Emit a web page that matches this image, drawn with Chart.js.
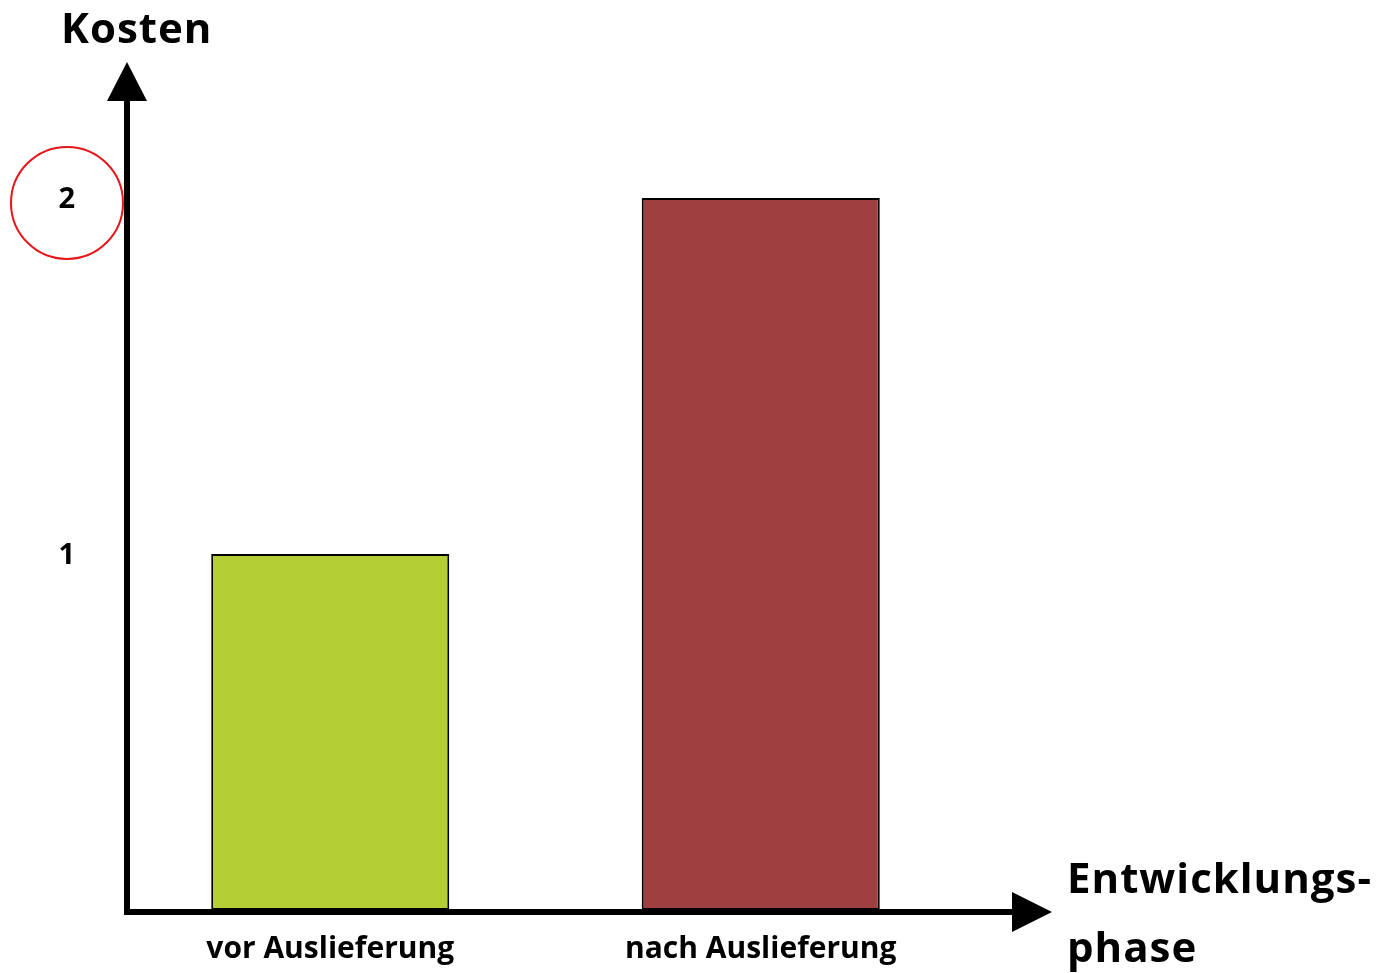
<!DOCTYPE html>
<html><head><meta charset="utf-8">
<style>html,body{margin:0;padding:0;background:#fff;}#wrap{width:1377px;height:973px;}</style>
<script src="https://cdn.jsdelivr.net/npm/chart.js@4/dist/chart.umd.min.js"></script>
</head><body><div id="wrap"><canvas id="c"></canvas></div>
<script>
const categories = ["vor Auslieferung", "nach Auslieferung"];
const costValues = [1, 2];
const barColors = ["#b3cd34", "#9e3f40"];
const yTickValues = [1, 2];
const yAxisTitle = "Kosten";
const xAxisTitle = ["Entwicklungs-", "phase"];
const highlightedTick = 2;

const FONT = "'Open Sans', Lato, sans-serif";

const axesPlugin = {
  id: 'axesArrows',
  afterDatasetsDraw(chart) {
    const {ctx, chartArea, scales} = chart;
    const x0 = chartArea.left + 12;
    const y0 = scales.y.getPixelForValue(0) + 2;
    ctx.save();
    ctx.fillStyle = '#000';
    ctx.strokeStyle = '#000';
    ctx.lineWidth = 6;
    // y axis
    ctx.beginPath();
    ctx.moveTo(x0, y0 + 3);
    ctx.lineTo(x0, 98);
    ctx.stroke();
    ctx.beginPath();
    ctx.moveTo(x0, 62); ctx.lineTo(x0 - 20, 101); ctx.lineTo(x0 + 20, 101); ctx.closePath(); ctx.fill();
    // x axis
    ctx.beginPath();
    ctx.moveTo(x0 - 3, y0);
    ctx.lineTo(1014, y0);
    ctx.stroke();
    ctx.beginPath();
    ctx.moveTo(1052, y0); ctx.lineTo(1012, y0 - 20); ctx.lineTo(1012, y0 + 20); ctx.closePath(); ctx.fill();
    // titles
    ctx.font = "bold 42px " + FONT;
    try { ctx.letterSpacing = '1px'; } catch (e) {}
    ctx.textBaseline = 'alphabetic';
    ctx.textAlign = 'left';
    ctx.fillText(yAxisTitle, 61, 43);
    ctx.fillText(xAxisTitle[0], 1067, 893);
    ctx.fillText(xAxisTitle[1], 1067, 962);
    try { ctx.letterSpacing = '0px'; } catch (e) {}
    // red circle around highlighted tick
    const cy = scales.y.getPixelForValue(highlightedTick) + 5;
    ctx.strokeStyle = '#e8151b';
    ctx.lineWidth = 2;
    ctx.beginPath();
    ctx.arc(67, cy, 56, 0, Math.PI * 2);
    ctx.stroke();
    ctx.restore();
  }
};

new Chart(document.getElementById('c'), {
  type: 'bar',
  data: {
    labels: categories,
    datasets: [{
      data: costValues,
      backgroundColor: barColors,
      borderColor: '#000',
      borderWidth: 2,
      borderSkipped: false,
      barPercentage: 0.553,
      categoryPercentage: 1.0
    }]
  },
  options: {
    responsive: true,
    maintainAspectRatio: false,
    animation: false,
    layout: { padding: { top: 58, right: 401, bottom: 0, left: 0 } },
    plugins: { legend: { display: false }, tooltip: { enabled: false } },
    scales: {
      x: {
        grid: { display: false, drawTicks: false },
        border: { display: false },
        ticks: { color: '#000', font: { family: FONT, size: 30, weight: 'bold' }, padding: 21, maxRotation: 0 },
        afterFit(s) { s.height = 63; }
      },
      y: {
        min: 0, max: 2.393,
        grid: { display: false, drawTicks: false },
        border: { display: false },
        afterBuildTicks(s) { s.ticks = yTickValues.map(v => ({ value: v })); },
        ticks: { color: '#000', font: { family: FONT, size: 29, weight: 'bold' }, padding: 40, labelOffset: 2 },
        afterFit(s) { s.width = 115; }
      }
    }
  },
  plugins: [axesPlugin]
});
</script>
</body></html>
